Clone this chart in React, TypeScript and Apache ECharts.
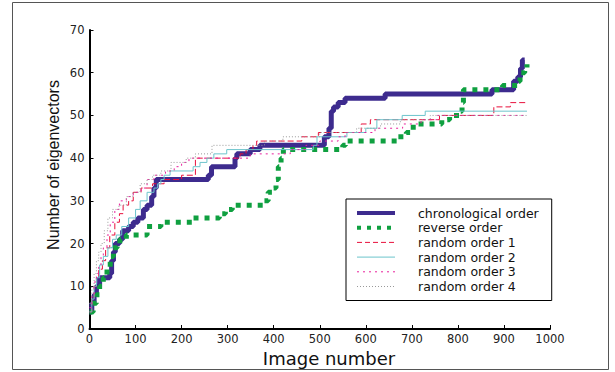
import React, { useEffect, useRef } from "react";
import * as echarts from "echarts";

const seriesNames = [
  "chronological order",
  "reverse order",
  "random order 1",
  "random order 2",
  "random order 3",
  "random order 4",
];

const chronological = [
  [0, 4], [5, 6], [10, 8], [15, 10], [22, 12], [44, 13], [48, 16], [52, 18], [56, 20],
  [65, 21], [72, 23], [85, 24], [95, 25], [105, 26], [117, 28], [125, 29], [135, 31],
  [140, 33], [145, 35], [258, 36], [265, 38], [316, 40], [320, 41], [349, 42], [370, 43],
  [505, 43], [510, 45], [520, 47], [525, 51], [530, 52], [540, 53], [555, 54], [642, 55],
  [874, 56], [921, 58], [930, 59], [936, 61], [940, 63], [945, 63],
];

const reverse = [
  [0, 4], [8, 6], [15, 8], [22, 10], [30, 12], [38, 14], [45, 17], [52, 19], [60, 20],
  [66, 21], [80, 22], [125, 24], [155, 25], [225, 26], [282, 27], [295, 28], [310, 29],
  [378, 30], [388, 32], [398, 33], [405, 35], [410, 38], [416, 40], [421, 42], [550, 43],
  [556, 44], [668, 45], [688, 46], [703, 48], [765, 49], [782, 50], [806, 51], [809, 53],
  [812, 56], [897, 57], [930, 58], [935, 60], [945, 61], [950, 62],
];

const random1 = [
  [0, 4], [5, 7], [10, 10], [15, 12], [20, 14], [28, 16], [35, 19], [44, 22], [55, 25],
  [65, 27], [73, 29], [85, 30], [95, 32], [112, 33], [137, 34], [162, 35], [200, 36],
  [230, 40], [327, 41], [340, 42], [355, 43], [363, 44], [461, 45], [497, 46], [590, 48],
  [610, 49], [760, 50], [878, 52], [914, 53], [950, 53],
];

const random2 = [
  [0, 4], [5, 7], [10, 10], [15, 12], [22, 15], [30, 17], [40, 19], [50, 21], [58, 22],
  [70, 24], [85, 26], [100, 28], [110, 30], [125, 32], [140, 33], [148, 34], [155, 35],
  [162, 36], [175, 37], [225, 38], [240, 39], [255, 40], [270, 41], [298, 42], [486, 43],
  [494, 45], [559, 46], [600, 47], [624, 49], [679, 50], [729, 51], [950, 51],
];

const random3 = [
  [0, 5], [5, 8], [10, 11], [15, 13], [20, 15], [25, 17], [30, 19], [38, 22], [45, 25],
  [55, 28], [65, 30], [80, 31], [95, 32], [112, 33], [125, 35], [140, 36], [165, 37],
  [184, 38], [200, 39], [216, 40], [349, 41], [436, 42], [470, 43], [500, 44], [540, 45],
  [555, 46], [620, 47], [680, 48], [720, 49], [755, 50], [950, 50],
];

const random4 = [
  [0, 6], [5, 10], [10, 13], [15, 16], [20, 18], [25, 20], [32, 23], [40, 26], [50, 28],
  [64, 29], [80, 31], [94, 32], [110, 34], [125, 35], [137, 36], [155, 37], [177, 39],
  [210, 40], [230, 41], [266, 43], [352, 43], [380, 44], [420, 45], [500, 46], [580, 47],
  [632, 48], [675, 49], [740, 50], [950, 50],
];

const xTicks = { min: 0, max: 1000, interval: 100 };
const yTicks = { min: 0, max: 70, interval: 10 };

const colors = ["#3d2b8e", "#0fa040", "#e8103c", "#6cc4cc", "#e8209c", "#999999"];
const widths = [5, 5, 1, 1, 1, 1];
const dashes: any[] = ["solid", [5, 6], [6, 3], "solid", [2, 4], [1, 2]];
const legendWidths = [4, 4, 1, 1, 1, 1];
const legendDashes: any[] = ["solid", [4, 6], [5, 3], "solid", [2, 4], [1, 2]];

export default function App() {
  const ref = useRef<HTMLDivElement>(null);

  useEffect(() => {
    document.body.style.margin = "0";
    const chart = echarts.init(ref.current!, null, { renderer: "svg" });
    const datasets = [chronological, reverse, random1, random2, random3, random4];
    chart.setOption({
      animation: false,
      backgroundColor: "#ffffff",
      grid: { left: 89.5, right: 65, top: 30, bottom: 43, containLabel: false },
      xAxis: {
        type: "value",
        min: xTicks.min,
        max: xTicks.max,
        interval: xTicks.interval,
        splitLine: { show: false },
        axisLine: { lineStyle: { color: "#000", width: 2 } },
        axisTick: { inside: true, length: 4, lineStyle: { color: "#000", width: 1 } },
        axisLabel: {
          color: "#222",
          fontFamily: "DejaVu Sans",
          fontSize: 11.5,
          margin: 4,
          formatter: (v: number) => String(v),
        },
      },
      yAxis: {
        type: "value",
        min: yTicks.min,
        max: yTicks.max,
        interval: yTicks.interval,
        splitLine: { show: false },
        axisLine: { show: true, lineStyle: { color: "#000", width: 2 } },
        axisTick: { show: true, inside: true, length: 4, lineStyle: { color: "#000", width: 1 } },
        axisLabel: { color: "#222", fontFamily: "DejaVu Sans", fontSize: 11.5, margin: 5 },
      },
      legend: {
        orient: "vertical",
        left: 346,
        top: 199,
        padding: [7, 13, 7, 9],
        itemWidth: 38,
        itemHeight: 10,
        itemGap: 0.7,
        backgroundColor: "#fff",
        borderColor: "#000",
        borderWidth: 1,
        borderRadius: 0,
        selectedMode: false,
        data: seriesNames.map((name, i) => ({
          name,
          lineStyle: { color: colors[i], width: legendWidths[i], type: legendDashes[i], cap: "butt" },
        })),
        itemStyle: { opacity: 0 },
        textStyle: {
          color: "#111",
          fontFamily: "DejaVu Sans",
          fontSize: 12.5,
          lineHeight: 14,
          padding: [0, 0, 0, 18],
        },
      },
      graphic: [
        {
          type: "rect",
          shape: { x: 12.5, y: 2.5, width: 596, height: 367 },
          style: { fill: "none", stroke: "#555", lineWidth: 1 },
          silent: true,
          z: -1,
        },
        {
          type: "text",
          x: 329,
          y: 358,
          style: {
            text: "Image number",
            fill: "#111",
            font: '18px "DejaVu Sans"',
            align: "center",
            verticalAlign: "middle",
          },
        },
        {
          type: "text",
          x: 53,
          y: 165,
          rotation: Math.PI / 2,
          style: {
            text: "Number of eigenvectors",
            fill: "#111",
            font: '16px "Liberation Sans"',
            align: "center",
            verticalAlign: "middle",
          },
        },
      ],
      series: seriesNames.map((name, i) => ({
        name,
        type: "line",
        data: datasets[i],
        step: "end",
        symbol: "none",
        color: colors[i],
        lineStyle: { color: colors[i], width: widths[i], type: dashes[i], cap: "butt" },
        emphasis: { disabled: true },
      })),
    });
    return () => chart.dispose();
  }, []);

  return <div ref={ref} style={{ width: 615, height: 372 }} />;
}
